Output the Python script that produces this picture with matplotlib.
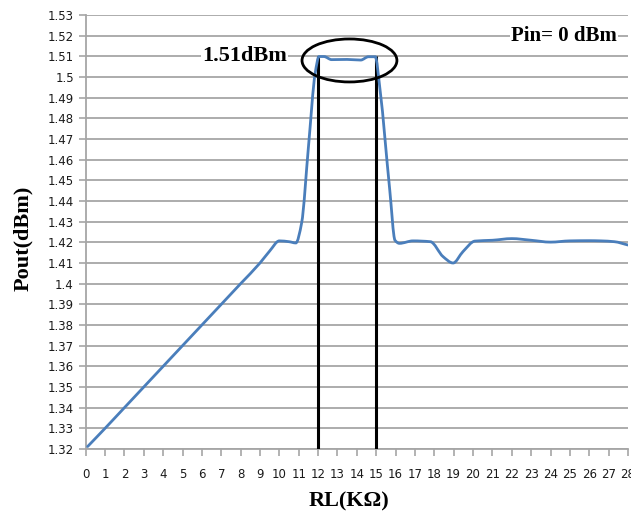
import numpy as np
import matplotlib
matplotlib.use("Agg")
import matplotlib.pyplot as plt
from matplotlib.path import Path
from matplotlib.patches import PathPatch, Ellipse

# valores
rl_kohm = [0.1, 1, 2, 3, 4, 5, 6, 7, 8, 9, 9.5, 10, 10.5, 10.85,
           11.15, 11.5, 11.85, 12.05, 12.3, 12.7, 13.5, 14.2, 14.6, 14.95,
           15.2, 15.7, 15.97, 16.2, 16.9, 17.8, 18.45, 18.97, 19.48, 20.1,
           21, 22, 23, 24, 25, 26, 26.6, 27.3, 28]
pout_dbm = [1.3212, 1.330, 1.340, 1.350, 1.360, 1.370, 1.380, 1.390,
            1.400, 1.410, 1.4158, 1.4207, 1.4203, 1.4197,
            1.4294, 1.4660, 1.5019, 1.5099, 1.5099, 1.5084, 1.5085, 1.5082, 1.5098, 1.5098,
            1.4937, 1.4453, 1.4210, 1.4195, 1.4207, 1.4203, 1.4131, 1.4100, 1.4155, 1.4206,
            1.4210, 1.4218, 1.4210, 1.4201, 1.4207, 1.4208, 1.4207, 1.4203, 1.4187]

x_ticks = list(range(0, 29))
y_ticks = [1.32, 1.33, 1.34, 1.35, 1.36, 1.37, 1.38, 1.39, 1.40, 1.41, 1.42,
           1.43, 1.44, 1.45, 1.46, 1.47, 1.48, 1.49, 1.50, 1.51, 1.52, 1.53]
y_tick_labels = ["1.32", "1.33", "1.34", "1.35", "1.36", "1.37", "1.38", "1.39",
                 "1.4", "1.41", "1.42", "1.43", "1.44", "1.45", "1.46", "1.47",
                 "1.48", "1.49", "1.5", "1.51", "1.52", "1.53"]
marked_rl = [12, 15]
peak_label = "1.51dBm"
pin_label = "Pin= 0 dBm"


def smooth_path(x, y):
    """Curva suave (bezier cúbica, tangentes monótonas) que pasa por los puntos."""
    x = np.asarray(x, dtype=float)
    y = np.asarray(y, dtype=float)
    h = np.diff(x)
    d = np.diff(y) / h
    m = np.zeros_like(y)
    m[0] = d[0]
    m[-1] = d[-1]
    for i in range(1, len(x) - 1):
        if d[i - 1] * d[i] <= 0:
            m[i] = 0.0
        else:
            w1 = 2 * h[i] + h[i - 1]
            w2 = h[i] + 2 * h[i - 1]
            m[i] = (w1 + w2) / (w1 / d[i - 1] + w2 / d[i])
    verts = [(x[0], y[0])]
    codes = [Path.MOVETO]
    for i in range(len(x) - 1):
        verts += [(x[i] + h[i] / 3, y[i] + m[i] * h[i] / 3),
                  (x[i + 1] - h[i] / 3, y[i + 1] - m[i + 1] * h[i] / 3),
                  (x[i + 1], y[i + 1])]
        codes += [Path.CURVE4] * 3
    return Path(verts, codes)


fig = plt.figure(figsize=(6.31, 5.19), dpi=100)
ax = fig.add_axes([0.1358, 0.1349, 0.8594, 0.8362])

grid_col = "#a6a6a6"
tick_font = ["Liberation Sans Narrow", "DejaVu Sans"]
label_font = ["Liberation Serif", "DejaVu Serif"]

ax.set_xlim(0, 28)
ax.set_ylim(1.32, 1.53)
ax.set_xticks(x_ticks)
ax.set_yticks(y_ticks)
ax.set_yticklabels(y_tick_labels)
ax.yaxis.grid(True, color=grid_col, lw=1.3)
ax.set_axisbelow(True)
for s in ["top", "right"]:
    ax.spines[s].set_visible(False)
for s in ["left", "bottom"]:
    ax.spines[s].set_color(grid_col)
    ax.spines[s].set_linewidth(1.3)
ax.tick_params(axis="both", direction="out", length=5, width=1.2, color=grid_col,
               labelsize=8.5, labelcolor="#1a1a1a")
ax.tick_params(axis="x", pad=9)
for lab in ax.get_xticklabels() + ax.get_yticklabels():
    lab.set_family(tick_font)

# curva suave
ax.add_patch(PathPatch(smooth_path(rl_kohm, pout_dbm), fill=False,
                       ec="#4a7ebb", lw=2.0, zorder=4, capstyle="round"))

# líneas verticales y elipse
ax.vlines(marked_rl, 1.32, 1.51, color="black", lw=2.2, zorder=3)
ax.add_patch(Ellipse((13.62, 1.508), 4.9, 0.0208, fill=False, ec="black",
                     lw=2.0, zorder=5))

ax.text(8.2, 1.51, peak_label, ha="center", va="center", fontsize=16,
        fontweight="bold", family=label_font, zorder=6,
        bbox=dict(fc="white", ec="none", pad=1))
ax.text(24.7, 1.52, pin_label, ha="center", va="center", fontsize=15,
        fontweight="bold", family=label_font, zorder=6,
        bbox=dict(fc="white", ec="none", pad=1))

fig.text(0.553, 0.033, "RL(KΩ)", ha="center", va="center", fontsize=16,
         fontweight="bold", family=label_font)
fig.text(0.037, 0.54, "Pout(dBm)", ha="center", va="center", fontsize=16,
         fontweight="bold", family=label_font, rotation=90)

fig.savefig("out.png", dpi=100)
